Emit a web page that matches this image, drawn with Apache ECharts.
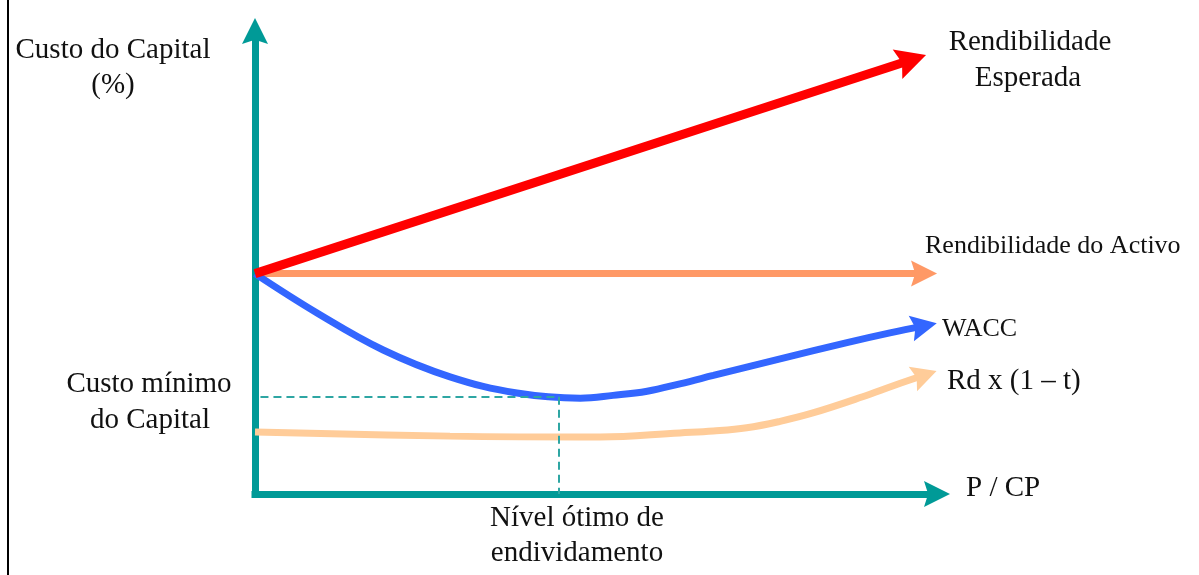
<!DOCTYPE html>
<html><head><meta charset="utf-8">
<script src="https://cdn.jsdelivr.net/npm/echarts@6/dist/echarts.min.js"></script>
<style>html,body{margin:0;padding:0;background:#fff}#c{width:1199px;height:575px}</style>
</head><body><div id="c"></div>
<script>
// ---- data (abstract units 0..100 on both axes) ----
const xRange = [0, 100];
const yRange = [0, 100];
// each curve ends at the centre of its arrow head
const rendEsperada = [[0, 47.6], [96.3, 93.8]];
const rendActivo = [[0, 47.6], [98.1, 47.6]];
const wacc = [[0, 47.6], [9.1, 39.1], [18.8, 31.1], [28.6, 25.3], [38.4, 21.8], [47.7, 20.7],
              [52.5, 21.3], [57.5, 22.2], [62.3, 23.8], [67.2, 25.6], [77.0, 29.2], [86.8, 32.7],
              [93.1, 34.8], [98.1, 36.3]];
const rdTax = [[0, 13.4], [28.6, 12.5], [50.6, 12.3], [62.3, 13.2], [67.2, 13.6], [72.1, 14.3],
               [77.0, 15.7], [81.8, 17.5], [89.1, 21.0], [93.8, 23.5], [98.2, 25.7]];
const optimo = [44.6, 21.0];
const dashStartX = 0.8;

const FONT = "'Liberation Serif', 'Times New Roman', serif";
const TEAL = '#009a97';
const HEAD = 'path://M5,0L10,10L5,8.4L0,10Z';

function arrowSeries(name, pts, color, width, head, smooth, z) {
  const n = pts.length;
  return {
    name, type: 'line', data: pts, smooth: smooth, symbol: 'none', z: z,
    lineStyle: { color: color, width: width, cap: 'butt' },
    silent: true, animation: false,
    markLine: {
      silent: true, animation: false,
      symbol: ['none', HEAD], symbolSize: head,
      lineStyle: { color: color, width: 1, type: 'solid', opacity: 1 },
      label: { show: false },
      data: [[{ coord: pts[n - 2] }, { coord: pts[n - 1] }]]
    }
  };
}

function txt(str, x, y, size, align) {
  return {
    type: 'text', x: x, y: y, silent: true,
    style: { text: str, font: size + 'px ' + FONT, fill: '#111', align: align || 'center', verticalAlign: 'middle' }
  };
}

const chart = echarts.init(document.getElementById('c'), null, { renderer: 'canvas' });
chart.setOption({
  animation: false,
  backgroundColor: '#fff',
  grid: { left: 255, right: 262, top: 31, bottom: 81 },
  xAxis: {
    type: 'value', min: xRange[0], max: xRange[1],
    axisLine: { show: true, onZero: false, symbol: ['none', HEAD], symbolSize: [26, 26],
                lineStyle: { color: TEAL, width: 7, cap: 'square' } },
    axisTick: { show: false }, axisLabel: { show: false }, splitLine: { show: false }
  },
  yAxis: {
    type: 'value', min: yRange[0], max: yRange[1],
    axisLine: { show: true, onZero: false, symbol: ['none', HEAD], symbolSize: [26, 26],
                lineStyle: { color: TEAL, width: 7, cap: 'square' } },
    axisTick: { show: false }, axisLabel: { show: false }, splitLine: { show: false }
  },
  series: [
    {
      type: 'line', data: [], symbol: 'none', z: 1, silent: true,
      markLine: {
        silent: true, animation: false, symbol: ['none', 'none'],
        lineStyle: { color: '#2ea6a3', width: 2, type: [8, 5] },
        label: { show: false },
        data: [
          [{ coord: [dashStartX, optimo[1]] }, { coord: optimo }],
          [{ coord: optimo }, { coord: [optimo[0], 0] }]
        ]
      }
    },
    arrowSeries('Rendibilidade do Activo', rendActivo, '#ff9966', 7, [26, 26], false, 3),
    arrowSeries('WACC', wacc, '#3366ff', 7, [26, 26], 0.4, 4),
    arrowSeries('Rd x (1 – t)', rdTax, '#ffcc99', 7, [26, 25], 0.4, 3),
    arrowSeries('Rendibilidade Esperada', rendEsperada, '#ff0000', 9, [31, 30], false, 5)
  ],
  graphic: [
    { type: 'line', silent: true, shape: { x1: 8, y1: 0, x2: 8, y2: 575 }, style: { stroke: '#000', lineWidth: 2 } },
    txt('Custo do Capital', 113, 50, 29),
    txt('(%)', 113, 85, 29),
    txt('Rendibilidade', 1030, 42, 29),
    txt('Esperada', 1028, 78, 29),
    txt('Rendibilidade do Activo', 925, 246, 26, 'left'),
    txt('WACC', 942, 329, 26, 'left'),
    txt('Rd x (1 – t)', 947, 381, 29, 'left'),
    txt('P / CP', 966, 488, 29, 'left'),
    txt('Custo mínimo', 149, 384, 29),
    txt('do Capital', 150, 420, 29),
    txt('Nível ótimo de', 577, 518, 29),
    txt('endividamento', 577, 553, 29)
  ]
});
</script></body></html>
